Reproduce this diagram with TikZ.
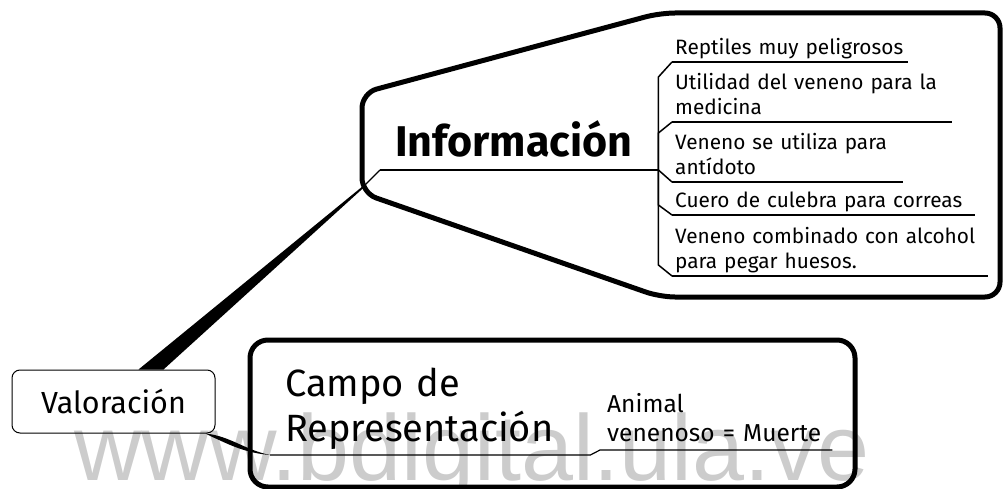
\documentclass[tikz,border=0pt]{standalone}
\usepackage{fontspec}
\setmainfont{Fira Sans}
\newfontfamily\wmfont{Liberation Sans}
\usetikzlibrary{calc,positioning}
\definecolor{wmgray}{RGB}{204,204,204}

\begin{document}
\begin{tikzpicture}[x=1pt, y=-1pt,
  central/.style={inner xsep=15pt, inner ysep=0pt, anchor=south west, align=left},
  leaf/.style={font=\fontsize{20.8}{25}\selectfont, inner xsep=3pt, inner ysep=0pt, anchor=south west, align=left},
  uline/.style={line width=1.2pt}]
  \useasboundingbox (0,0) rectangle (1003,489);
  % watermark
  \node [anchor=base west, inner sep=0pt, text=wmgray, font=\wmfont\fontsize{93.5}{94}\selectfont] (wm) at (74,480) {www.bdigital.ula.ve};
  % Informacion
  \draw [line width=5pt, rounded corners=15pt] (362,193) -- (362,93) -- (660,13) -- (1000,13) -- (1000,297) -- (660,297) -- cycle;
  \node [central, text width=245pt, font=\fontsize{43}{44}\selectfont\bfseries] (info) at (380,170) {Información\strut};
  \draw [uline] (info.south west) -- (info.south east);
  \node [leaf, text width=230pt] (r1) at (672,62) {Reptiles~muy~peligrosos\strut};
  \node [leaf, text width=274pt] (r2) at (672,122) {Utilidad~del~veneno~para~la\\medicina\strut};
  \node [leaf, text width=225pt] (r3) at (672,182) {Veneno~se~utiliza~para\\antídoto\strut};
  \node [leaf, text width=297pt] (r4) at (672,215) {Cuero~de~culebra~para~correas\strut};
  \node [leaf, text width=310pt] (r5) at (672,276) {Veneno~combinado~con~alcohol\\para~pegar~huesos.\strut};
  \draw [line width=2pt] ([xshift=-15pt]info.south east) -- ([xshift=3pt]info.south east) coordinate (fork);
  \foreach \c/\d in {r1/15, r2/11, r3/-12, r4/-10, r5/-11} {
    \draw [uline] (\c.south west) -- (\c.south east);
    \draw [line width=1.5pt] (fork) -- ($(fork |- \c.south west)+(0,\d)$) -- (\c.south west);
  }
  % Valoracion
  \node [draw, line width=1pt, rounded corners=8pt, minimum width=203pt, minimum height=63pt, font=\fontsize{30.5}{31}\selectfont] (val) at (113.5,401.5) {Valoración};
  \draw [uline] (info.south west) -- ++(-16,16) coordinate (ij);
  \fill ([xshift=-1pt]ij) -- ([xshift=1.5pt]ij) -- ([xshift=50pt]val.north) -- ([xshift=25pt]val.north) -- cycle;
  % Campo de Representacion
  \draw [line width=5pt, rounded corners=18pt] (250,340) rectangle (855,487);
  \node [central, text width=290pt, font=\fontsize{38}{45}\selectfont] (campo) at (270,455) {Campo~de\\Representación\strut};
  \node [leaf, font=\fontsize{24.5}{29}\selectfont, inner xsep=7pt, text width=218pt] (anim) at (600,450) {Animal\\venenoso~=~Muerte\strut};
  \draw [uline] (campo.south west) -- (campo.south east) -- (anim.south west) -- (anim.south east);
  \fill ([xshift=-10pt]val.south east) .. controls (230,436) and (245,450) .. (campo.south west)
    .. controls (245,453) and (228,444) .. ([xshift=-2pt,yshift=-4pt]val.south east) -- cycle;
\end{tikzpicture}
\end{document}
